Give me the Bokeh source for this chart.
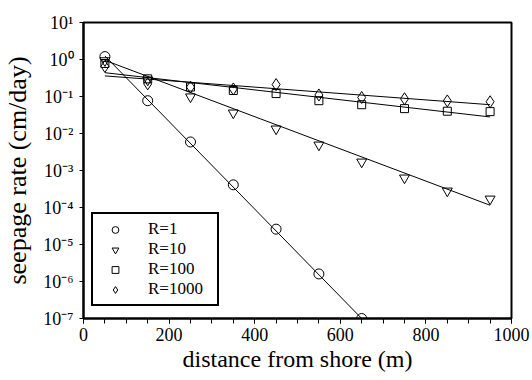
from bokeh.plotting import figure
from bokeh.models import (FixedTicker, CustomJSTickFormatter, Legend, LegendItem, Range1d)
from bokeh.embed import file_html
from bokeh.resources import INLINE

# ---- data ----
dist = [50, 150, 250, 350, 450, 550, 650, 750, 850, 950]
r1_x = [50, 150, 250, 350, 450, 550, 650]
r1_y = [1.2, 0.077, 0.0059, 4.1e-4, 2.6e-5, 1.6e-6, 1.0e-7]
r10_y = [0.93, 0.28, 0.098, 0.036, 0.0133, 0.0049, 0.0017, 6.3e-4, 2.8e-4, 1.7e-4]
r100_y = [0.78, 0.30, 0.18, 0.145, 0.12, 0.077, 0.06, 0.047, 0.04, 0.039]
r1000_y = [0.65, 0.22, 0.18, 0.16, 0.21, 0.11, 0.094, 0.087, 0.076, 0.072]

# fitted regression lines (end points)
fit1_x = [50, 650]
fit1_y = [1.25, 1.0e-7]
fit_x = [50, 950]
fit10_y = [0.95, 1.15e-4]
fit100_y = [0.44, 0.028]
fit1000_y = [0.36, 0.06]

series_labels = ["R=1", "R=10", "R=100", "R=1000"]
x_ticks = [0, 200, 400, 600, 800, 1000]
x_minor = [50 * i for i in range(21)]
y_ticks = [1e-7, 1e-6, 1e-5, 1e-4, 1e-3, 1e-2, 1e-1, 1e0, 1e1]

FONT = "Liberation Serif"

p = figure(width=530, height=378, y_axis_type="log",
           x_range=Range1d(0, 1000), y_range=Range1d(1e-7, 10),
           output_backend="svg", toolbar_location=None,
           min_border_left=82, min_border_right=19,
           min_border_top=22, min_border_bottom=60)

p.xgrid.visible = False
p.ygrid.visible = False
p.background_fill_color = "white"
p.border_fill_color = "white"
p.outline_line_color = "black"
p.outline_line_width = 2
p.outline_line_alpha = 1

# lines
p.line(fit1_x, fit1_y, line_color="black", line_width=1)
p.line(fit_x, fit10_y, line_color="black", line_width=1)
p.line(fit_x, fit100_y, line_color="black", line_width=1)
p.line(fit_x, fit1000_y, line_color="black", line_width=1)

# markers
m1 = p.scatter(r1_x, r1_y, marker="circle", size=10, fill_color="white",
               fill_alpha=0, line_color="black", line_width=1)
m10 = p.scatter(dist, r10_y, marker="inverted_triangle", size=10, fill_color="white",
                fill_alpha=0, line_color="black", line_width=1)
m100 = p.scatter(dist, r100_y, marker="square", size=8, fill_color="white",
                 fill_alpha=0, line_color="black", line_width=1)
m1000 = p.scatter(dist, r1000_y, marker="diamond", size=12, fill_color="white",
                  fill_alpha=0, line_color="black", line_width=1)

legend = Legend(items=[LegendItem(label=series_labels[0], renderers=[m1]),
                       LegendItem(label=series_labels[1], renderers=[m10]),
                       LegendItem(label=series_labels[2], renderers=[m100]),
                       LegendItem(label=series_labels[3], renderers=[m1000])],
                location=(8, 12), orientation="vertical",
                glyph_width=34, glyph_height=17, label_standoff=16,
                label_width=64, label_height=20, padding=5, spacing=0, margin=0,
                label_text_font=FONT, label_text_font_size="17px",
                label_text_color="black",
                border_line_color="black", border_line_width=2, border_line_alpha=1,
                background_fill_color="white", background_fill_alpha=1)
p.add_layout(legend, "center")

# axes
for ax in (p.xaxis[0], p.yaxis[0]):
    ax.axis_line_width = 2
    ax.axis_line_color = "black"
    ax.major_tick_line_color = "black"
    ax.minor_tick_line_color = "black"
    ax.major_tick_in = 0
    ax.minor_tick_in = 0
    ax.major_label_text_font = FONT
    ax.major_label_text_color = "black"
    ax.axis_label_text_font = FONT
    ax.axis_label_text_font_style = "normal"
    ax.axis_label_text_color = "black"

p.xaxis.ticker = FixedTicker(ticks=x_ticks, minor_ticks=x_minor)
p.xaxis.major_tick_out = 5
p.xaxis.minor_tick_out = 5
p.xaxis.major_label_standoff = 4
p.xaxis.major_label_text_font_size = "18px"
p.xaxis.axis_label = "distance from shore (m)"
p.xaxis.axis_label_text_font_size = "24px"
p.xaxis.axis_label_standoff = 2

p.yaxis.ticker = FixedTicker(ticks=y_ticks, minor_ticks=[])
p.yaxis.major_tick_out = 4
p.yaxis.minor_tick_out = 0
p.yaxis.major_label_standoff = 6
p.yaxis.major_label_text_font_size = "18px"
p.yaxis.axis_label = "seepage rate (cm/day)"
p.yaxis.axis_label_text_font_size = "26px"
p.yaxis.axis_label_standoff = 8
p.yaxis.formatter = CustomJSTickFormatter(code="""
const e = Math.round(Math.log10(tick));
const sup = {'-':'\u207b','0':'\u2070','1':'\u00b9','2':'\u00b2','3':'\u00b3',
             '4':'\u2074','5':'\u2075','6':'\u2076','7':'\u2077','8':'\u2078','9':'\u2079'};
return '10' + String(e).split('').map(c => sup[c]).join('');
""")

open("out.html", "w").write(file_html(p, INLINE))
